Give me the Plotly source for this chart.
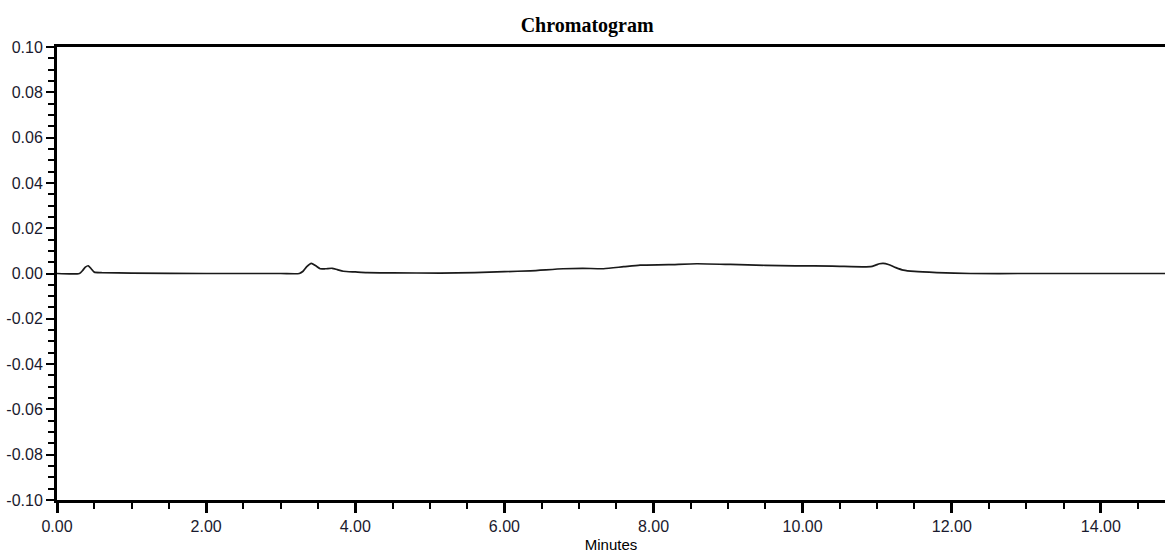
import plotly.graph_objects as go

# Retention time (minutes) and detector response (AU)
time_min = [0.00, 0.30, 0.34, 0.38, 0.42, 0.46, 0.50, 0.60, 1.00, 2.00, 3.00,
            3.25, 3.30, 3.35, 3.41, 3.47, 3.53, 3.60, 3.69, 3.76, 3.84, 4.00,
            4.16, 4.50, 5.14, 5.60, 6.00, 6.35, 6.79, 7.05, 7.33, 7.60, 7.82,
            8.20, 8.58, 9.03, 9.50, 9.90, 10.40, 10.91, 10.98, 11.03, 11.08,
            11.15, 11.25, 11.35, 11.50, 11.80, 12.25, 13.00, 14.00, 14.86]
response = [0.0000, 0.0000, 0.0012, 0.0028, 0.0034, 0.0020, 0.0006, 0.0004,
            0.0002, 0.0000, 0.0000, 0.0000, 0.0010, 0.0030, 0.0045, 0.0034,
            0.0021, 0.0021, 0.0023, 0.0017, 0.0010, 0.0007, 0.0004, 0.0003,
            0.0002, 0.0004, 0.0008, 0.0012, 0.0021, 0.0023, 0.0021, 0.0030,
            0.0037, 0.0039, 0.0043, 0.0040, 0.0036, 0.0034, 0.0033, 0.0030,
            0.0037, 0.0043, 0.0045, 0.0040, 0.0026, 0.0015, 0.0009, 0.0004,
            0.0000, 0.0000, 0.0000, 0.0000]

y_tick_vals = [0.10, 0.08, 0.06, 0.04, 0.02, 0.00, -0.02, -0.04, -0.06, -0.08, -0.10]
y_tick_text = ["0.10", "0.08", "0.06", "0.04", "0.02", "0.00",
               "-0.02", "-0.04", "-0.06", "-0.08", "-0.10"]
x_tick_vals = [0, 2, 4, 6, 8, 10, 12, 14]
x_tick_text = ["0.00", "2.00", "4.00", "6.00", "8.00", "10.00", "12.00", "14.00"]

fig = go.Figure()
fig.add_trace(go.Scatter(
    x=time_min, y=response, mode="lines",
    line=dict(color="#1a1a1a", width=1.7, shape="spline", smoothing=0.6),
    showlegend=False, hoverinfo="skip"))

fig.update_layout(
    width=1165, height=555,
    margin=dict(l=57, r=0, t=47, b=55),
    paper_bgcolor="white", plot_bgcolor="white",
    title=dict(text="<b>Chromatogram</b>", x=0.504, xanchor="center",
               y=1 - 25 / 555, yanchor="middle",
               font=dict(family="Liberation Serif, Times New Roman, serif",
                         size=20, color="black")),
    font=dict(family="Liberation Sans, Arial, sans-serif", color="black"),
)

fig.update_xaxes(
    range=[0, 14.86], showgrid=False, zeroline=False,
    showline=True, linecolor="black", linewidth=3, mirror=True,
    tickmode="array", tickvals=x_tick_vals, ticktext=x_tick_text,
    ticks="outside", ticklen=10, tickwidth=3, tickcolor="black",
    tickfont=dict(size=16, color="#1a1a2e"),
    minor=dict(dtick=0.5, tick0=0, ticks="outside", ticklen=6,
               tickwidth=2, tickcolor="black", showgrid=False),
    title=dict(text="Minutes", font=dict(size=15, color="black"), standoff=6),
)
fig.update_yaxes(
    range=[-0.10, 0.10], showgrid=False, zeroline=False,
    showline=True, linecolor="black", linewidth=3, mirror=False,
    tickmode="array", tickvals=y_tick_vals, ticktext=y_tick_text,
    ticks="outside", ticklen=8, tickwidth=2, tickcolor="black",
    tickfont=dict(size=16, color="#1a1a2e"),
    minor=dict(dtick=0.005, tick0=0, ticks="outside", ticklen=6,
               tickwidth=2, tickcolor="black", showgrid=False),
)

fig.write_html("out.html")
